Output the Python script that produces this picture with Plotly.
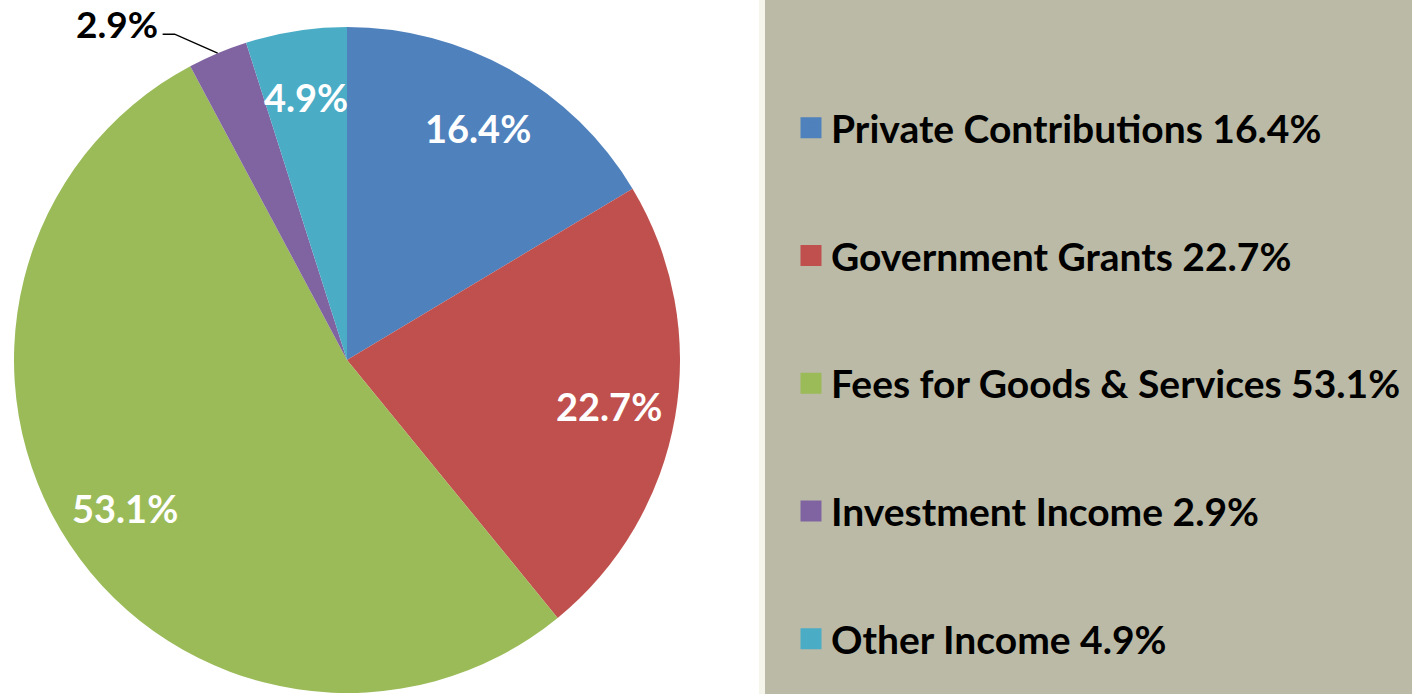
import math
import plotly.graph_objects as go

labels = ['Private Contributions', 'Government Grants', 'Fees for Goods & Services',
          'Investment Income', 'Other Income']
values = [16.4, 22.7, 53.1, 2.9, 4.9]
colors = ['#4F81BD', '#C0504D', '#9BBB59', '#8064A2', '#4BACC6']
label_colors = ['white', 'white', 'white', 'black', 'white']

W, H = 1412, 694
FONT = 'Lato'

# pie placement in pixels
cx, cy, R = 347, 360, 333

fig = go.Figure()
fig.add_trace(go.Pie(
    labels=labels, values=values, sort=False, direction='clockwise', rotation=0,
    marker=dict(colors=colors, line=dict(width=0)),
    textinfo='none', hoverinfo='label+percent', showlegend=False,
    domain=dict(x=[(cx - R) / W, (cx + R) / W], y=[(H - cy - R) / H, (H - cy + R) / H]),
))

# legend entries (dummy traces so spacing can be controlled)
for i, (lab, v, c) in enumerate(zip(labels, values, colors)):
    fig.add_trace(go.Scatter(
        x=[None], y=[None], mode='markers', name=f'{lab} {v}%',
        marker=dict(symbol='square', size=16, color=c, line=dict(color=c, width=5)),
        legendgroup=f'g{i}', showlegend=True,
    ))

# data labels at 0.8R along each slice's bisector
total = sum(values)
cum = 0
annotations = []
shapes = []
for v, tc in zip(values, label_colors):
    mid = (cum + v / 2) / total * 2 * math.pi
    cum += v
    if tc == 'black':
        # small slice: label outside with a leader line
        tipx = cx + R * math.sin(mid)
        tipy = cy - R * math.cos(mid)
        ex, ey = tipx - 43, tipy - 19
        shapes.append(dict(type='path', xref='paper', yref='paper',
                           path=f'M{tipx / W},{1 - tipy / H} L{ex / W},{1 - ey / H} L{(ex - 12) / W},{1 - ey / H}',
                           line=dict(color='black', width=1.5)))
        annotations.append(dict(x=(ex - 15) / W, y=1 - (ey - 11) / H, xref='paper', yref='paper',
                                text=f'{v}%', showarrow=False, xanchor='right', yanchor='middle',
                                font=dict(family=FONT, size=37, color='black', weight='bold')))
    else:
        px_ = cx + 0.8 * R * math.sin(mid)
        py_ = cy - 0.8 * R * math.cos(mid)
        annotations.append(dict(x=px_ / W, y=1 - py_ / H, xref='paper', yref='paper',
                                text=f'{v}%', showarrow=False, xanchor='center', yanchor='middle',
                                font=dict(family=FONT, size=38, color='white', weight='bold')))

# legend panel background
shapes.insert(0, dict(type='rect', xref='paper', yref='paper', x0=765 / W, x1=1, y0=0, y1=1,
                      fillcolor='#BBBAA6', line=dict(width=0), layer='below'))
shapes.insert(0, dict(type='rect', xref='paper', yref='paper', x0=759 / W, x1=765 / W, y0=0, y1=1,
                      fillcolor='#F6F5EC', line=dict(width=0), layer='below'))

fig.update_layout(
    width=W, height=H,
    margin=dict(l=0, r=0, t=0, b=0),
    paper_bgcolor='white', plot_bgcolor='rgba(0,0,0,0)',
    xaxis=dict(visible=False), yaxis=dict(visible=False),
    shapes=shapes, annotations=annotations,
    legend=dict(x=791 / W, xanchor='left', y=1 - 96 / H, yanchor='top',
                bgcolor='rgba(0,0,0,0)', tracegroupgap=74,
                font=dict(family=FONT, size=39, color='black', weight='bold')),
)

fig.write_html('out.html', config={'displayModeBar': False},
               post_script="document.body.style.margin='0';")
